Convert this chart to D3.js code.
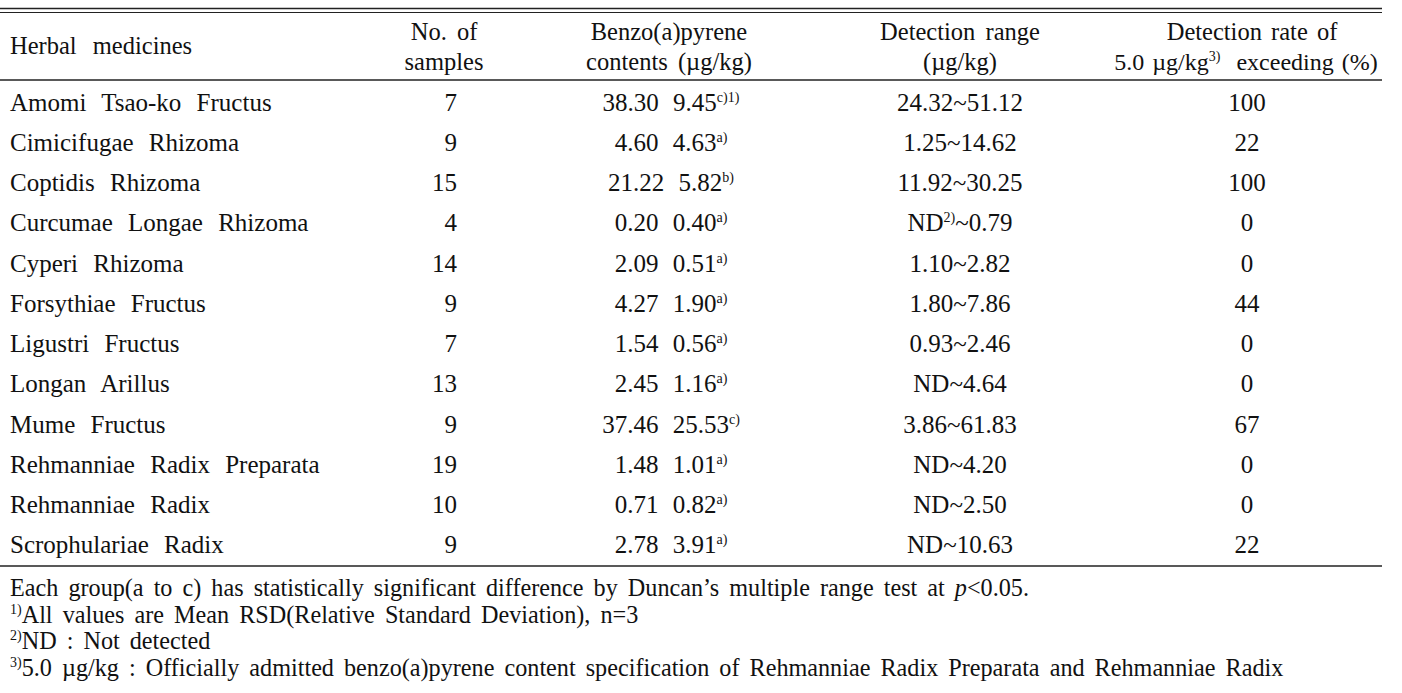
<!DOCTYPE html>
<html><head><meta charset="utf-8">
<script src="https://cdn.jsdelivr.net/npm/d3@7"></script>
<style>
html,body{margin:0;padding:0;background:#fff;}
svg text{font-family:"Liberation Serif","Times New Roman",serif;fill:#111;}
</style></head>
<body>
<svg id="t" width="1402" height="693"></svg>
<script>
const herbs = ["Amomi Tsao-ko Fructus","Cimicifugae Rhizoma","Coptidis Rhizoma","Curcumae Longae Rhizoma","Cyperi Rhizoma","Forsythiae Fructus","Ligustri Fructus","Longan Arillus","Mume Fructus","Rehmanniae Radix Preparata","Rehmanniae Radix","Scrophulariae Radix"];
const samples = [7,9,15,4,14,9,7,13,9,19,10,9];
const means = ["38.30","4.60","21.22","0.20","2.09","4.27","1.54","2.45","37.46","1.48","0.71","2.78"];
const rsds = ["9.45","4.63","5.82","0.40","0.51","1.90","0.56","1.16","25.53","1.01","0.82","3.91"];
const groups = ["c)1)","a)","b)","a)","a)","a)","a)","a)","c)","a)","a)","a)"];
const rangeLow = ["24.32","1.25","11.92","ND","1.10","1.80","0.93","ND","3.86","ND","ND","ND"];
const rangeLowSup = ["","","","2)","","","","","","","",""];
const rangeHigh = ["51.12","14.62","30.25","0.79","2.82","7.86","2.46","4.64","61.83","4.20","2.50","10.63"];
const exceedRate = [100,22,100,0,0,44,0,0,67,0,0,22];
const footnotes = [
  {sup:"", parts:[["Each group(a to c) has statistically significant difference by Duncan’s multiple range test at ",false],["p",true],["<0.05.",false]]},
  {sup:"1)", parts:[["All values are Mean RSD(Relative Standard Deviation), n=3",false]]},
  {sup:"2)", parts:[["ND : Not detected",false]]},
  {sup:"3)", parts:[["5.0 µg/kg : Officially admitted benzo(a)pyrene content specification of Rehmanniae Radix Preparata and Rehmanniae Radix",false]]}
];

const svg = d3.select("#t");
const FS = 25, FH = 24.5, FN = 24.2, SUP = 14, RAISE = 9;
const y = d3.scaleBand().domain(d3.range(herbs.length)).range([82, 565]);
const cx = {name:10, n:457, bap:671, range:960, rate:1247};
const L = 0, R = 1382;

const rule = (yy, w) => svg.append("line").attr("x1",L).attr("x2",R).attr("y1",yy).attr("y2",yy).attr("stroke","#222").attr("stroke-width",w);
rule(8.5,1.5); rule(12.5,1.2); rule(80,1.6); rule(566,1.6);

function txt(x, yc, anchor, fs, ws){
  fs = fs || FH;
  return svg.append("text").attr("x",x).attr("y",yc + 0.34*fs)
    .attr("text-anchor",anchor).attr("font-size",fs).style("word-spacing",(ws==null?4:ws)+"px");
}
function sup(t, s){ t.append("tspan").attr("font-size",SUP).attr("dy",-RAISE).text(s); }
function down(t, s){ return t.append("tspan").attr("dy",RAISE).text(s); }

// header
txt(cx.name,46,"start",FH,10).text("Herbal medicines");
txt(444,32,"middle").text("No. of");
txt(444,62,"middle").text("samples");
txt(669,32,"middle").text("Benzo(a)pyrene");
txt(669,62,"middle").text("contents (µg/kg)");
txt(960,32,"middle").text("Detection range");
txt(960,62,"middle").text("(µg/kg)");
txt(1252,32,"middle",FH,3).text("Detection rate of");
{ const t = txt(1246,62,"middle",24,2); t.append("tspan").text("5.0 µg/kg"); sup(t,"3)"); down(t,"\u00a0 exceeding (%)"); }

// rows
const rows = svg.selectAll("g.row").data(herbs).join("g").attr("class","row")
  .attr("transform",(d,i)=>`translate(0,${y(i)+y.bandwidth()/2 + 0.34*FS})`);
rows.each(function(d,i){
  const g = d3.select(this);
  const mk = (x,a,ws)=>g.append("text").attr("x",x).attr("y",0).attr("text-anchor",a).attr("font-size",FS).style("word-spacing",(ws==null?5:ws)+"px");
  mk(cx.name,"start",9).text(d);
  mk(cx.n,"end").text(samples[i]);
  const b = mk(cx.bap,"middle",8);
  b.append("tspan").text(means[i] + " " + rsds[i]);
  b.append("tspan").attr("font-size",SUP).attr("dy",-RAISE).text(groups[i]);
  const r = mk(cx.range,"middle");
  r.append("tspan").text(rangeLow[i]);
  if (rangeLowSup[i]) { r.append("tspan").attr("font-size",SUP).attr("dy",-RAISE).text(rangeLowSup[i]); r.append("tspan").attr("dy",RAISE).text("~"+rangeHigh[i]); }
  else r.append("tspan").text("~"+rangeHigh[i]);
  mk(cx.rate,"middle").text(exceedRate[i]);
});

// footnotes
const fy = [588, 615, 641, 668];
footnotes.forEach((f,k)=>{
  const t = txt(10, fy[k], "start", FN, 4);
  if (f.sup) { t.append("tspan").attr("font-size",SUP).attr("dy",-RAISE).text(f.sup); }
  f.parts.forEach((p,j)=>{
    const s = t.append("tspan").text(p[0]);
    if (f.sup && j===0) s.attr("dy",RAISE);
    if (p[1]) s.style("font-style","italic");
  });
});
</script>
</body></html>
